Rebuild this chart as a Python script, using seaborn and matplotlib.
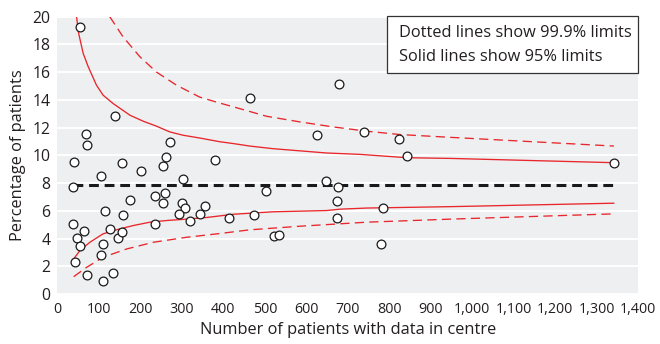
import matplotlib
matplotlib.use("Agg")
import matplotlib.pyplot as plt
import matplotlib.ticker as mticker
from matplotlib.patches import Rectangle
import seaborn as sns
import pandas as pd

# Centre sizes and percentages
centre_n = [54, 40, 37, 37, 47, 55, 63, 42, 68, 72, 72, 105, 105, 109, 114, 110,
            126, 133, 138, 146, 155, 157, 156, 175, 202, 236, 236, 255, 261, 260,
            255, 271, 302, 300, 307, 294, 319, 343, 356, 380, 414, 464, 475, 502,
            523, 534, 626, 648, 678, 677, 674, 674, 740, 786, 781, 824, 842, 1342]
centre_pct = [19.25, 9.5, 7.7, 5.08, 4.07, 3.47, 4.58, 2.29, 11.57, 10.77, 1.40, 8.48,
              2.79, 3.59, 5.97, 0.91, 4.67, 1.49, 12.84, 4.07, 4.5, 5.69, 9.47, 6.77,
              8.87, 7.08, 5.08, 9.25, 9.88, 7.27, 6.58, 10.96, 8.29, 6.58, 6.17, 5.78,
              5.30, 5.78, 6.38, 9.66, 5.49, 14.17, 5.69, 7.40, 4.19, 4.29, 11.47, 8.17,
              15.18, 7.69, 6.70, 5.49, 11.66, 6.19, 3.59, 11.18, 9.98, 9.47]

overall_pct = 7.85

# Control limits (95% solid, 99.9% dashed)
upper95_n = [46, 51, 62, 74, 94, 110, 134, 175, 207, 239, 271, 303, 343, 392, 424,
             464, 520, 649, 730, 842, 947, 1342]
upper95 = [20.0, 18.8, 17.35, 16.4, 15.06, 14.34, 13.74, 12.89, 12.46, 12.1, 11.69,
           11.45, 11.25, 10.98, 10.85, 10.67, 10.48, 10.17, 10.07, 9.83, 9.78, 9.47]
lower95_n = [39, 54, 78, 110, 142, 183, 223, 263, 311, 360, 424, 520, 649, 682, 746,
             947, 1342]
lower95 = [2.53, 3.13, 3.73, 4.34, 4.63, 4.94, 5.18, 5.3, 5.4, 5.52, 5.75, 5.93, 6.02,
           6.12, 6.2, 6.3, 6.55]
upper999_n = [126, 158, 199, 239, 287, 343, 388, 424, 504, 585, 665, 746, 826, 947, 1342]
upper999 = [20.0, 18.55, 17.1, 16.0, 15.06, 14.2, 13.8, 13.5, 12.82, 12.41, 12.05,
            11.74, 11.5, 11.3, 10.67]
lower999_n = [39, 70, 110, 167, 231, 311, 388, 464, 585, 746, 947, 1342]
lower999 = [1.25, 1.92, 2.65, 3.25, 3.73, 4.09, 4.35, 4.63, 4.89, 5.18, 5.4, 5.78]

legend_lines = ["Dotted lines show 99.9% limits", "Solid lines show 95% limits"]

sns.set_theme(style="white")
plt.rcParams["font.family"] = ["Open Sans", "DejaVu Sans"]

fig = plt.figure(figsize=(6.6, 3.44), dpi=100)
ax = fig.add_axes([0.0871, 0.1453, 0.8796, 0.8062])
ax.set_facecolor("#eeeff1")
for s in ax.spines.values():
    s.set_visible(False)

red = "#e8262b"
dash = (0, (7, 4))
limits = [
    (upper95_n, upper95, "-"), (lower95_n, lower95, "-"),
    (upper999_n, upper999, dash), (lower999_n, lower999, dash),
]
for xs, ys, ls in limits:
    df = pd.DataFrame({"n": xs, "pct": ys})
    sns.lineplot(data=df, x="n", y="pct", ax=ax, color=red, lw=0.95,
                 linestyle=ls, estimator=None, sort=False, zorder=3)

centre_df = pd.DataFrame({"n": [min(centre_n), max(centre_n)],
                          "pct": [overall_pct, overall_pct]})
sns.lineplot(data=centre_df, x="n", y="pct", ax=ax, color="#1a1a1a", lw=2.2,
             linestyle=(0, (3.2, 1.9)), estimator=None, zorder=3)

points = pd.DataFrame({"n": centre_n, "pct": centre_pct})
sns.scatterplot(data=points, x="n", y="pct", ax=ax, s=40, color="white",
                edgecolor="#1a1a1a", linewidth=0.9, zorder=4)

ax.set_xlim(0, 1400)
ax.set_ylim(0, 20)
ax.set_yticks(range(0, 21, 2))
ax.set_xticks(range(0, 1401, 100))
ax.xaxis.set_major_formatter(mticker.FuncFormatter(lambda v, p: f"{int(v):,}"))
ax.yaxis.grid(True, color="white", lw=1.4)
ax.set_axisbelow(True)
text_col = "#231f20"
ax.tick_params(axis="x", direction="in", length=6.5, width=1.2, color="white",
               labelsize=10.3, labelcolor=text_col, pad=6)
ax.tick_params(axis="y", length=0, labelsize=11.3, labelcolor=text_col, pad=5)
ax.set_xlabel("Number of patients with data in centre", fontsize=11.8, color=text_col,
              labelpad=3)
ax.set_ylabel("Percentage of patients", fontsize=11.8, color=text_col, labelpad=5)

# Legend box in the top-right corner
ax.add_patch(Rectangle((0.568, 0.797), 0.432, 0.205, transform=ax.transAxes,
                       facecolor="white", edgecolor="#333333", lw=0.9,
                       zorder=5, clip_on=False))
ax.text(0.588, 0.941, legend_lines[0], transform=ax.transAxes, fontsize=11.8,
        va="center", ha="left", color=text_col, zorder=6)
ax.text(0.588, 0.855, legend_lines[1], transform=ax.transAxes, fontsize=11.8,
        va="center", ha="left", color=text_col, zorder=6)

fig.savefig("out.png", dpi=100)
